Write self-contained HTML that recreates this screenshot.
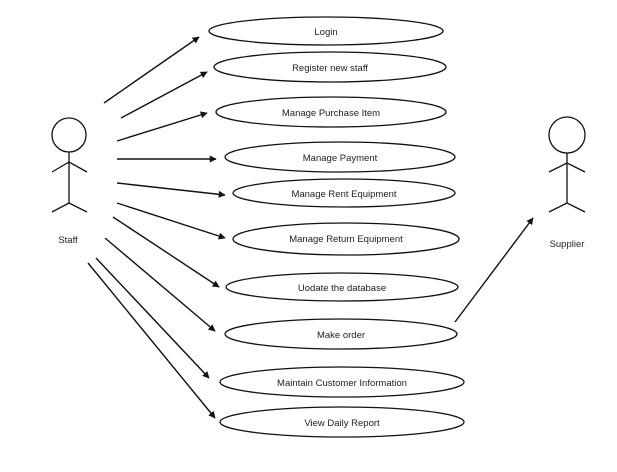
<!DOCTYPE html>
<html><head><style>body{margin:0;background:#fff}svg{display:block}</style></head><body>
<svg width="617" height="472" xmlns="http://www.w3.org/2000/svg" font-family="Liberation Sans, sans-serif" font-size="9.5" fill="none" stroke="#111">
<defs><marker id="a" viewBox="0 0 10 10" refX="9" refY="5" markerWidth="7" markerHeight="7" orient="auto" markerUnits="userSpaceOnUse"><path d="M0,0L10,5L0,10z" fill="#111" stroke="none"/></marker></defs>
<g stroke-width="1.3">
<ellipse cx="326" cy="31" rx="117" ry="14"/>
<ellipse cx="330" cy="67" rx="116" ry="15"/>
<ellipse cx="331" cy="112" rx="115" ry="15"/>
<ellipse cx="340" cy="157" rx="115" ry="15"/>
<ellipse cx="344" cy="193" rx="111" ry="14"/>
<ellipse cx="346" cy="239" rx="113" ry="16"/>
<ellipse cx="342" cy="287" rx="116" ry="14"/>
<ellipse cx="341" cy="334" rx="116" ry="15"/>
<ellipse cx="342" cy="382" rx="122" ry="15"/>
<ellipse cx="342" cy="422" rx="122" ry="15"/>
</g>
<g stroke-width="1.4" marker-end="url(#a)">
<line x1="104" y1="103" x2="199" y2="37"/>
<line x1="121" y1="118" x2="207" y2="72"/>
<line x1="117" y1="141" x2="207" y2="113"/>
<line x1="117" y1="159" x2="216" y2="159"/>
<line x1="117" y1="183" x2="225" y2="195"/>
<line x1="117" y1="203" x2="225" y2="238"/>
<line x1="113" y1="217" x2="219" y2="287"/>
<line x1="105" y1="238" x2="215" y2="331"/>
<line x1="96" y1="258" x2="209" y2="378"/>
<line x1="88" y1="263" x2="215" y2="418"/>
<line x1="455" y1="322" x2="533" y2="218"/>
</g>
<g stroke-width="1.3">
<circle cx="69" cy="135" r="17"/>
<path d="M69,152V203M52,172L69,162L87,172M52,212L69,203L87,212"/>
<circle cx="567" cy="135" r="18"/>
<path d="M567,153V203M549,172L567,163L585,172M549,212L567,203L585,212"/>
</g>
<g fill="#222" stroke="none" text-anchor="middle">
<text x="326" y="35">Login</text>
<text x="330" y="71">Register new staff</text>
<text x="331" y="116">Manage Purchase Item</text>
<text x="340" y="161">Manage Payment</text>
<text x="344" y="197">Manage Rent Equipment</text>
<text x="346" y="242">Manage Return Equipment</text>
<text x="342" y="291">Uodate the database</text>
<text x="341" y="338">Make order</text>
<text x="342" y="386">Maintain Customer Information</text>
<text x="342" y="426">View Daily Report</text>
<text x="68" y="243">Staff</text>
<text x="567" y="247">Supplier</text>
</g>
</svg>
</body></html>
